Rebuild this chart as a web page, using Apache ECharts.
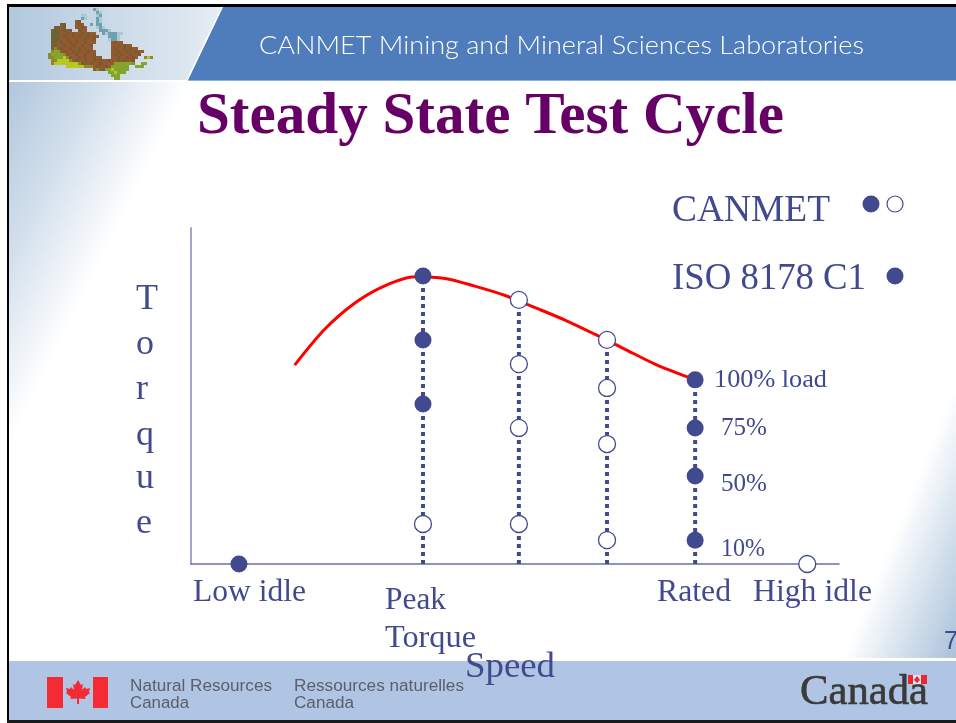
<!DOCTYPE html>
<html>
<head>
<meta charset="utf-8">
<style>
  html,body{margin:0;padding:0;background:#fff;}
  #chart{width:956px;height:723px;}
</style>
</head>
<body>
<div id="chart"></div>
<script src="https://cdn.jsdelivr.net/npm/echarts@6/dist/echarts.min.js"></script>
<script>
// axes run 0-100 in both directions (no numbers printed on the slide)
const curveSpeed  = [16.0,20.7,25.3,29.9,34.6,39.2,43.8,48.5,53.1,57.7,62.3,67.0,71.6,77.8];
const curveTorque = [59.2,70.0,77.7,82.8,85.5,85.0,82.7,79.9,76.3,72.6,68.4,63.9,59.5,54.8];

const stemSpeeds = [35.8,50.6,64.2,77.8];
const stemTops   = [85.7,78.6,66.7,54.8];

const filledSpeed = [7.4,35.8,35.8,35.8,77.8,77.8,77.8,77.8];
const filledLoad  = [0,85.7,66.7,47.6,54.8,40.5,26.2,7.1];
const openSpeed   = [35.8,50.6,50.6,50.6,50.6,64.2,64.2,64.2,64.2,95.1];
const openLoad    = [11.9,78.6,59.5,40.5,11.9,66.7,52.4,35.7,7.1,0];

const torqueLetters = ['T','o','r','q','u','e'];
const torqueLetterY = [310,355,400,446,489,534];

const navy = '#424a8f';
const serif = '"Liberation Serif"';
const sans = '"Liberation Sans"';

// logo of Canada, 3px cells
const mapRows = [
  '...............tl..................',
  '................tl.................',
  '...........ll...lt.................',
  '...........tl...tl.................',
  '.........bB.....tl.................',
  '....dB...bBb..t.tt.................',
  '..dBbB...bbBb...ltl................',
  '.dBdbBbB..Bbb....tttl..............',
  '.dBdbbBbBbbBbBbb..tltttll..........',
  '.dddbBbbBbBbbBbBb...tttl...........',
  '.dBdbbBbbBbbBbbB....lttl...........',
  '.ddbBbbBbBbbBbbb.....bBbb..........',
  '.dBbbBbbBbbBbbB......bbBbBbb.......',
  '.dobBbbBbbBbBbb......bBbbBbBbb.....',
  '.oggbBbbBbBbbBbb.....bbBbbBbbBbb...',
  'oggggoBbbBbbBbbB.....bBbBbbBbbB....',
  'oogggyoBbbBbBbbBbb...bbBbbBbBb..oyo',
  '.ooyyyyobBbbBbbBbBbbBbbBbBbbB......',
  '.oyyyyyyyyoBbbBbbBbbbbggggggo..gg..',
  '......yyyyyyooobBbbBbgggggg..ggg...',
  '...............bobBggyggggg........',
  '....................ggyggg.........',
  '.....................ggg...........',
  '......................gg...........'
];
const mapColors = {b:'#94592c',B:'#7a5a32',d:'#6c6536',o:'#8d8a2c',g:'#84a42e',y:'#b9c722',t:'#6f9fb0',l:'#a8c8d2'};

const ctx = document.createElement('canvas').getContext('2d');
// text placed by baseline, stretched to the width it has on the slide
function txt(str, x, base, font, size, fill, width, weight){
  const f = (weight ? weight + ' ' : '') + size + 'px ' + font;
  ctx.font = f;
  const sx = width ? width / ctx.measureText(str).width : 1;
  return {type:'text', x:x, y:base - size*0.3, scaleX:sx, silent:true,
    style:{text:str, font:f, fill:fill, textAlign:'left', textVerticalAlign:'middle'}};
}
function poly(points, fill){
  return {type:'polygon', silent:true, shape:{points:points}, style:{fill:fill}};
}
function box(x,y,w,h,fill){
  return {type:'rect', silent:true, shape:{x:x,y:y,width:w,height:h}, style:{fill:fill}};
}

const leaf = [[78,680],[81,685],[83,684],[82,690],[85,687],[86,689],[90,688],[89,692],[90,693],[85,697],[85.5,699],[79,698.5],[79,704],[77,704],[77,698.5],[70.5,699],[71,697],[66,693],[67,692],[66,688],[70,689],[71,687],[74,690],[73,684],[75,685]];

const decor = [
  // left fade
  {type:'rect', silent:true, shape:{x:9,y:82,width:200,height:380}, style:{fill:{type:'linear',x:9,y:82,x2:153.8,y2:154.4,global:true,
    colorStops:[{offset:0,color:'#b0c7dd'},{offset:.5,color:'#d3e0ec'},{offset:1,color:'#ffffff'}]}}},
  // bottom right fade
  {type:'rect', silent:true, shape:{x:800,y:380,width:156,height:278}, style:{fill:{type:'linear',x:843,y:658,x2:939.7,y2:697.6,global:true,
    colorStops:[{offset:0,color:'#ffffff'},{offset:.5,color:'#d3e0ec'},{offset:1,color:'#a9c1d9'}]}}},
  // header
  {type:'polygon', silent:true, shape:{points:[[9,7],[223,7],[188,80],[9,80]]}, style:{fill:{type:'linear',x:9,y:0,x2:223,y2:0,global:true,
    colorStops:[{offset:0,color:'#b2c8dd'},{offset:1,color:'#e6edf4'}]}}},
  poly([[188,80],[223,7],[956,7],[956,80]],'#4f7cba'),
  {type:'line', silent:true, shape:{x1:187,y1:80,x2:222,y2:7}, style:{stroke:'#ffffff',lineWidth:1.5}},
  box(188,80,768,1,'#8fb0d8'),
  box(9,80,179,2,'#ffffff')
];
mapRows.forEach(function(row,r){
  row.split('').forEach(function(ch,c){
    if(mapColors[ch]) decor.push(box(48+c*3,8+r*3,3,3,mapColors[ch]));
  });
});
decor.push(
  // footer
  box(9,661,947,59,'#b0c4e4'),
  box(47,677,16,31,'#f42a35'),
  box(93,677,15,31,'#f42a35'),
  poly(leaf,'#f42a35'),
  // frame
  box(7,4,949,3,'#000000'),
  box(7,4,2,719,'#000000'),
  box(7,720,949,3,'#1a1a1a'),
  // legend dots
  {type:'circle', silent:true, shape:{cx:871,cy:204,r:8.5}, style:{fill:navy}},
  {type:'circle', silent:true, shape:{cx:895,cy:204,r:8}, style:{fill:'#fff',stroke:navy,lineWidth:1.2}},
  {type:'circle', silent:true, shape:{cx:895,cy:276,r:8.5}, style:{fill:navy}}
);

const wordmark = txt('Canada',800,706,serif,42,'#3a3a3a',128);
wordmark.style.stroke = '#3a3a3a';
wordmark.style.lineWidth = 0.6;

const texts = [
  txt('CANMET Mining and Mineral Sciences Laboratories',259,53,'Lato',26,'#ffffff',605,'300'),
  txt('Steady State Test Cycle',197,135,serif,59,'#660066',587,'bold'),
  txt('CANMET',672,222,serif,38,navy,158),
  txt('ISO 8178 C1',672,290,serif,38,navy,194),
  txt('100% load',714,388,serif,26,navy,113),
  txt('75%',721,436,serif,26,navy,46),
  txt('50%',721,492,serif,26,navy,46),
  txt('10%',721,557,serif,26,navy,44),
  txt('Low idle',193,602,serif,31,navy,113),
  txt('Peak',385,610,serif,31,navy,61),
  txt('Torque',385,648,serif,31,navy,91),
  txt('Rated',657,602,serif,31,navy,74),
  txt('High idle',753,602,serif,31,navy,119),
  txt('Speed',465,678,serif,36,navy,90),
  txt('7',944,650,sans,26,navy,14),
  txt('Natural Resources',130,691,sans,16,'#5a5f6a',142),
  txt('Canada',130,708,sans,16,'#5a5f6a',59),
  txt('Ressources naturelles',294,691,sans,16,'#5a5f6a',170),
  txt('Canada',294,708,sans,16,'#5a5f6a',60),
  wordmark
];
torqueLetters.forEach(function(l,i){
  texts.push(txt(l,136,torqueLetterY[i],serif,36,navy));
});
// small flag over the wordmark
texts.push(
  box(908,675,5,9,'#e8272f'),
  box(921,675,6,9,'#e8272f'),
  box(913,675,8,9,'#dfe4ee'),
  poly([[917,676],[920,680],[917,683],[914,680]],'#e8272f')
);

const stems = stemSpeeds.map(function(s,i){
  return {name:'stem'+i, type:'line', symbol:'none', z:2, silent:true,
    lineStyle:{color:navy,width:4,type:[4,4],cap:'butt'},
    data:[[s,0],[s,stemTops[i]]]};
});

const chart = echarts.init(document.getElementById('chart'),null,{renderer:'canvas'});
chart.setOption({
  animation:false,
  backgroundColor:'#ffffff',
  grid:{left:191,top:228,width:648,height:336},
  xAxis:{type:'value',min:0,max:100,splitLine:{show:false},axisTick:{show:false},axisLabel:{show:false},
    axisLine:{show:true,lineStyle:{color:'#6a6fa8',width:1.5}}},
  yAxis:{type:'value',min:0,max:100,splitLine:{show:false},axisTick:{show:false},axisLabel:{show:false},
    axisLine:{show:true,onZero:false,lineStyle:{color:'#a3a6cc',width:2}}},
  graphic:{elements:decor.concat(texts)},
  series:stems.concat([
    {name:'Torque curve',type:'line',symbol:'none',smooth:0.3,z:3,clip:false,silent:true,
      lineStyle:{color:'#ff0000',width:3},
      data:curveSpeed.map(function(s,i){return [s,curveTorque[i]];})},
    {name:'CANMET / ISO 8178 C1',type:'scatter',symbol:'circle',symbolSize:17,z:5,silent:true,
      itemStyle:{color:navy,opacity:1},
      data:filledSpeed.map(function(s,i){return [s,filledLoad[i]];})},
    {name:'CANMET',type:'scatter',symbol:'circle',symbolSize:17,z:5,silent:true,
      itemStyle:{color:'#ffffff',borderColor:navy,borderWidth:1.3,opacity:1},
      data:openSpeed.map(function(s,i){return [s,openLoad[i]];})}
  ])
});
</script>
</body>
</html>
